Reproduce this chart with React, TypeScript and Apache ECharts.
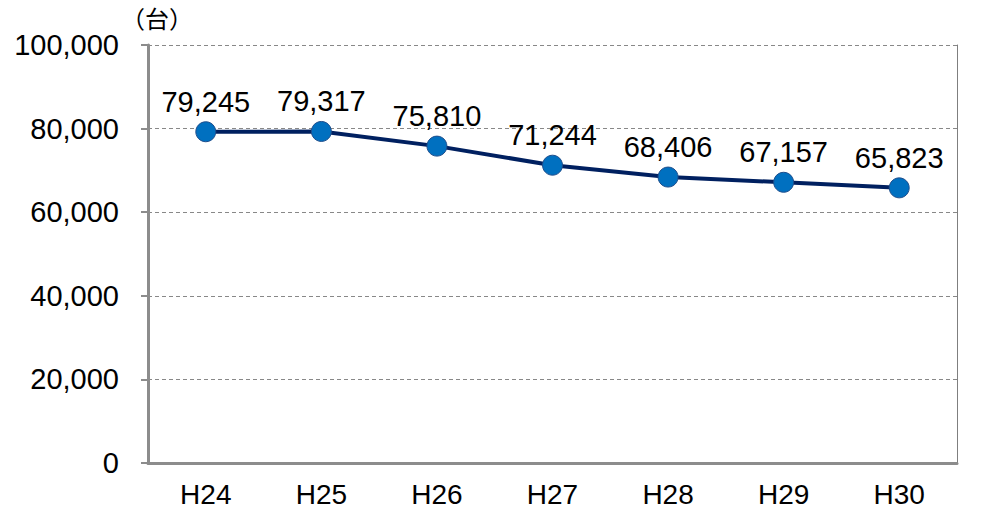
import React, { useEffect, useRef } from "react";
import * as echarts from "echarts";

const categories = ["H24", "H25", "H26", "H27", "H28", "H29", "H30"];
const values = [79245, 79317, 75810, 71244, 68406, 67157, 65823];
const unitLabel = "（台）";
const yMin = 0;
const yMax = 100000;
const yInterval = 20000;

const FONT = "'Liberation Sans', Arial, sans-serif";
const CJK = "'Noto Sans CJK JP', sans-serif";

export default function App() {
  const ref = useRef<HTMLDivElement>(null);
  useEffect(() => {
    const chart = echarts.init(ref.current!, null, { renderer: "svg" });
    chart.setOption({
      animation: false,
      backgroundColor: "#ffffff",
      grid: { left: 148, right: 32, top: 45, bottom: 47, containLabel: false, outerBoundsMode: "none" },
      graphic: [
        {
          type: "text",
          left: 121,
          top: 5,
          style: { text: unitLabel, font: `24px ${CJK}`, fill: "#000" },
        },
      ],
      xAxis: {
        type: "category",
        data: categories,
        boundaryGap: true,
        axisLine: { lineStyle: { color: "#8c8c8c", width: 3 } },
        axisTick: { alignWithLabel: true, inside: true, length: 6, lineStyle: { color: "#8c8c8c", width: 2 } },
        axisLabel: { color: "#000", fontSize: 28, fontFamily: FONT, margin: 19, lineHeight: 24 },
        splitLine: { show: false },
      },
      yAxis: [
        {
          type: "value",
          min: yMin,
          max: yMax,
          interval: yInterval,
          axisLine: { show: true, lineStyle: { color: "#8c8c8c", width: 3 } },
          axisTick: { show: true, length: 7, lineStyle: { color: "#8c8c8c", width: 2 } },
          axisLabel: {
            color: "#000",
            fontSize: 29,
            fontFamily: FONT,
            margin: 29,
            formatter: (v: number) => v.toLocaleString("en-US"),
          },
          splitLine: { show: true, lineStyle: { color: "#888888", type: [4, 3], width: 1 } },
        },
        {
          type: "value",
          position: "right",
          min: yMin,
          max: yMax,
          interval: yInterval,
          axisLine: { show: true, lineStyle: { color: "#7f7f7f", width: 1 } },
          axisTick: { show: false },
          axisLabel: { show: false },
          splitLine: { show: false },
        },
      ],
      series: [
        {
          type: "line",
          data: values,
          yAxisIndex: 0,
          symbol: "circle",
          symbolSize: 20,
          lineStyle: { color: "#002060", width: 4 },
          itemStyle: { color: "#0070C0", borderColor: "#1f4e8c", borderWidth: 1 },
          label: {
            show: true,
            position: "top",
            distance: 5,
            color: "#000",
            fontSize: 29,
            fontFamily: FONT,
            formatter: (p: any) => Number(p.value).toLocaleString("en-US"),
          },
        },
      ],
    });
    return () => chart.dispose();
  }, []);
  return (
    <div
      ref={ref}
      style={{ position: "fixed", left: 0, top: 0, width: 989, height: 510 }}
    />
  );
}
